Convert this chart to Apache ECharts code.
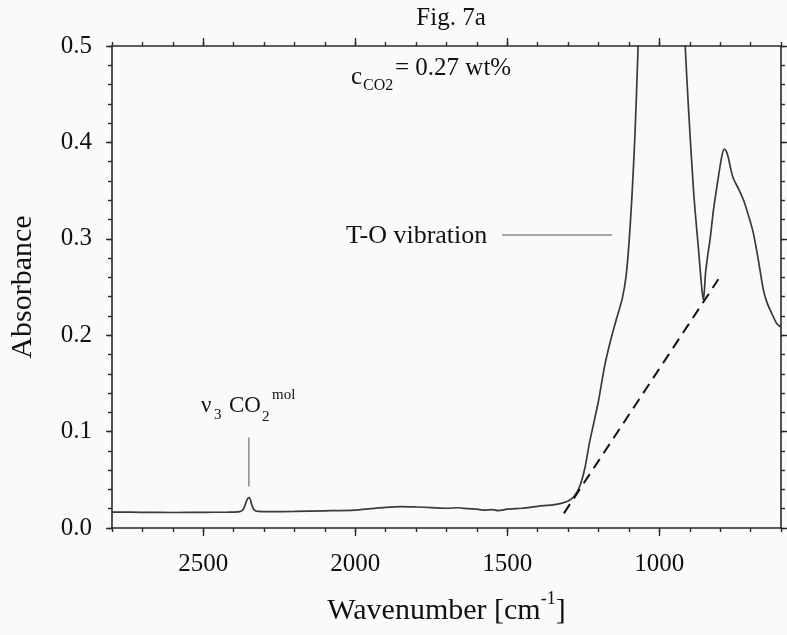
<!DOCTYPE html>
<html>
<head>
<meta charset="utf-8">
<script src="https://cdn.jsdelivr.net/npm/echarts@6/dist/echarts.min.js"></script>
<style>
  html, body { margin: 0; padding: 0; background: #fafafa; }
  #chart { width: 787px; height: 635px; }
</style>
</head>
<body>
<div id="chart"></div>
<script>
// IR absorbance spectrum (wavenumber in cm-1, absorbance)
const wavenumber = [
  2800, 2700, 2600, 2500, 2420, 2380, 2368, 2360, 2355, 2350, 2345, 2340, 2332, 2320,
  2280, 2200, 2100, 2000, 1950, 1900, 1850, 1800, 1750, 1700, 1660, 1630, 1600, 1575,
  1550, 1530, 1500, 1450, 1400, 1350, 1320, 1300, 1280, 1262, 1245, 1230, 1215, 1200,
  1180, 1160, 1140, 1122, 1110, 1100, 1090, 1080, 1072, 1065, 1050, 1000, 950, 925,
  915, 904, 887, 871, 860, 855, 848, 840, 833, 822, 806, 795, 787, 780, 773, 765,
  756, 740, 723, 705, 691, 675, 658, 645, 631, 614, 603, 600
];
const absorbance = [
  0.0165, 0.0163, 0.0161, 0.0162, 0.0165, 0.0170, 0.0195, 0.0260, 0.0300, 0.0315, 0.0295, 0.0235, 0.0185, 0.0172,
  0.0170, 0.0172, 0.0178, 0.0186, 0.0200, 0.0214, 0.0222, 0.0218, 0.0212, 0.0205, 0.0210, 0.0200, 0.0195, 0.0185,
  0.0190, 0.0180, 0.0195, 0.0205, 0.0225, 0.0240, 0.0258, 0.0280, 0.0330, 0.0430, 0.0620, 0.0880, 0.1100, 0.1320,
  0.1680, 0.1950, 0.2180, 0.2380, 0.2600, 0.2950, 0.3450, 0.4100, 0.4800, 0.5500, 0.7000, 1.0000, 0.8000, 0.5800,
  0.5000, 0.4340, 0.3470, 0.2880, 0.2470, 0.2365, 0.2650, 0.2850, 0.3000, 0.3300, 0.3640, 0.3850, 0.3930, 0.3910, 0.3840, 0.3720,
  0.3620, 0.3520, 0.3400, 0.3220, 0.3060, 0.2790, 0.2470, 0.2330, 0.2230, 0.2120, 0.2090, 0.2085
];

// Dashed tangent baseline under the T-O band
const tangentWn = [1314, 806];
const tangentAbs = [0.0152, 0.258];

// Pointer lines for the annotations
const co2MarkerWn = [2350, 2350];
const co2MarkerAbs = [0.043, 0.094];
const toMarkerWn = [1517, 1156];
const toMarkerAbs = [0.304, 0.304];

// Axis ticks and labels
const xMajorTicks = [1000, 1500, 2000, 2500];
const yMajorTicks = [0, 0.1, 0.2, 0.3, 0.4, 0.5];

const pairs = (xs, ys) => xs.map((x, i) => [x, ys[i]]);

const serif = '"Liberation Serif", "DejaVu Serif", serif';
const ink = '#111';
const axisColor = '#2a2a2a';

const xRange = { min: 600, max: 2800, inverse: true, type: 'value' };
const yRange = { min: 0, max: 0.5, type: 'value' };

function xAxisLayer(position, major, withLabels) {
  const axis = Object.assign({}, xRange, {
    position: position,
    interval: 100,
    splitLine: { show: false },
    axisLine: { show: !major, onZero: false, lineStyle: { color: axisColor, width: 1.6 } },
    axisTick: { show: true, inside: false, length: major ? 8 : 4, lineStyle: { color: axisColor, width: 1.4 } },
    axisLabel: { show: false }
  });
  if (major) axis.axisTick.customValues = xMajorTicks;
  if (withLabels) {
    axis.axisLabel = {
      show: true, customValues: xMajorTicks, margin: 24,
      fontFamily: serif, fontSize: 25, color: ink,
      formatter: v => String(Math.round(v))
    };
    axis.name = '{t|Wavenumber [cm}{s|-1}{t|]}';
    axis.nameLocation = 'middle';
    axis.nameGap = 62;
    axis.nameTextStyle = {
      rich: {
        t: { fontFamily: serif, fontSize: 30, color: ink, lineHeight: 36, verticalAlign: 'bottom' },
        s: { fontFamily: serif, fontSize: 18, color: ink, lineHeight: 36, verticalAlign: 'top' }
      }
    };
  }
  return axis;
}

function yAxisLayer(position, major, withLabels) {
  const axis = Object.assign({}, yRange, {
    position: position,
    interval: 0.02,
    splitLine: { show: false },
    axisLine: { show: !major, onZero: false, lineStyle: { color: axisColor, width: 1.6 } },
    axisTick: { show: true, inside: false, length: major ? 6 : 4, lineStyle: { color: axisColor, width: 1.4 } },
    axisLabel: { show: false }
  });
  if (major) axis.axisTick.customValues = yMajorTicks;
  if (withLabels) {
    axis.axisLabel = {
      show: true, customValues: yMajorTicks, margin: 20,
      fontFamily: serif, fontSize: 25, color: ink,
      formatter: v => v.toFixed(1)
    };
    axis.name = 'Absorbance';
    axis.nameLocation = 'middle';
    axis.nameGap = 74;
    axis.nameTextStyle = { fontFamily: serif, fontSize: 30, color: ink };
  }
  return axis;
}

const chart = echarts.init(document.getElementById('chart'), null, { renderer: 'canvas' });

function label(text, x, y, size, align) {
  return {
    type: 'text', x: x, y: y, silent: true,
    style: {
      text: text, fontFamily: serif, fontSize: size, fill: ink,
      align: align || 'left', verticalAlign: 'middle'
    }
  };
}

chart.setOption({
  backgroundColor: '#fafafa',
  animation: false,
  grid: { left: 111, right: 6, top: 46, bottom: 107, containLabel: false },
  xAxis: [
    xAxisLayer('bottom', false, true),
    xAxisLayer('bottom', true, false),
    xAxisLayer('top', false, false),
    xAxisLayer('top', true, false)
  ],
  yAxis: [
    yAxisLayer('left', false, true),
    yAxisLayer('left', true, false),
    yAxisLayer('right', false, false),
    yAxisLayer('right', true, false)
  ],
  series: [
    {
      name: 'spectrum', type: 'line', xAxisIndex: 0, yAxisIndex: 0,
      data: pairs(wavenumber, absorbance),
      showSymbol: false, symbol: 'none', smooth: 0.25, clip: true,
      lineStyle: { color: '#3a3a3a', width: 1.7 }, z: 3
    },
    {
      name: 'baseline', type: 'line', xAxisIndex: 0, yAxisIndex: 0,
      data: pairs(tangentWn, tangentAbs),
      showSymbol: false, symbol: 'none',
      lineStyle: { color: '#111', width: 2, type: [11, 7] }, z: 4
    },
    {
      name: 'co2 pointer', type: 'line', xAxisIndex: 0, yAxisIndex: 0,
      data: pairs(co2MarkerWn, co2MarkerAbs),
      showSymbol: false, symbol: 'none',
      lineStyle: { color: '#8a8a8a', width: 1.5 }
    },
    {
      name: 'T-O pointer', type: 'line', xAxisIndex: 0, yAxisIndex: 0,
      data: pairs(toMarkerWn, toMarkerAbs),
      showSymbol: false, symbol: 'none',
      lineStyle: { color: '#8a8a8a', width: 1.5 }
    }
  ],
  graphic: [
    label('Fig. 7a', 451, 18, 25, 'center'),
    // c_CO2 = 0.27 wt%
    label('c', 351, 77, 25),
    label('CO2', 363, 86, 16),
    label('= 0.27 wt%', 395, 68, 25),
    // T-O vibration
    label('T-O vibration', 346, 236, 26),
    // nu3 CO2 mol
    label('\u03bd', 201, 406, 23),
    label('3', 214, 415, 15),
    label('CO', 229, 406, 23),
    label('2', 262, 417, 15),
    label('mol', 272, 395, 15)
  ]
});
</script>
</body>
</html>
